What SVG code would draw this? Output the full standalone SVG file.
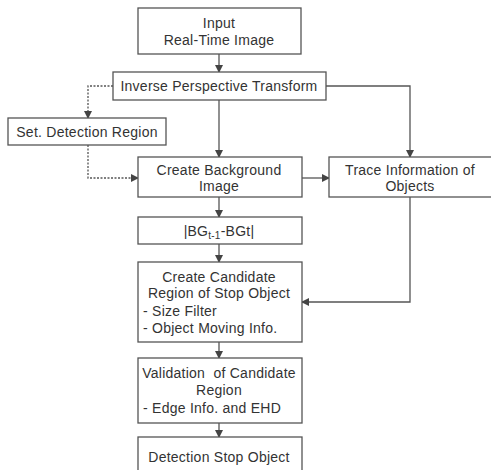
<svg xmlns="http://www.w3.org/2000/svg" width="491" height="470" viewBox="0 0 491 470">
<style>
.box{fill:#fff;stroke:#555;stroke-width:1.3}
.t{font-family:"Liberation Sans","DejaVu Sans",sans-serif;font-size:14px;letter-spacing:0.25px;fill:#333;text-anchor:middle}
.l{text-anchor:start}
.c{fill:none;stroke:#555;stroke-width:1.3}
.d{stroke-dasharray:2,1.5}
</style>
<defs>
<marker id="a" markerWidth="8" markerHeight="8" refX="7" refY="4" orient="auto" markerUnits="userSpaceOnUse">
<path d="M0,0 L8,4 L0,8 Z" fill="#444"/>
</marker>
</defs>
<rect width="491" height="470" fill="#fff"/>
<g id="connectors">
<path class="c" d="M219,54 V72" marker-end="url(#a)"/>
<path class="c d" d="M113,86 H88 V118" marker-end="url(#a)"/>
<path class="c" d="M219,100 V157" marker-end="url(#a)"/>
<path class="c" d="M326,86 H410 V157" marker-end="url(#a)"/>
<path class="c d" d="M88,145 V178 H138" marker-end="url(#a)"/>
<path class="c" d="M302,178 H329" marker-end="url(#a)"/>
<path class="c" d="M219,197 V217" marker-end="url(#a)"/>
<path class="c" d="M219,244 V262" marker-end="url(#a)"/>
<path class="c" d="M410,197 V302 H302" marker-end="url(#a)"/>
<path class="c" d="M219,342 V358" marker-end="url(#a)"/>
<path class="c" d="M219,423 V437" marker-end="url(#a)"/>
</g>
<g id="input">
<rect class="box" x="138" y="8" width="163" height="46"/>
<text class="t" x="219" y="28">Input</text>
<text class="t" x="219" y="45">Real-Time Image</text>
</g>
<g id="ipt">
<rect class="box" x="113" y="72" width="213" height="28"/>
<text class="t" x="219" y="91">Inverse Perspective Transform</text>
</g>
<g id="setdet">
<rect class="box" x="8" y="118" width="158" height="27"/>
<text class="t" x="87" y="137">Set. Detection Region</text>
</g>
<g id="createbg">
<rect class="box" x="138" y="157" width="164" height="40"/>
<text class="t" x="219" y="175">Create Background</text>
<text class="t" x="219" y="191">Image</text>
</g>
<g id="trace">
<rect class="box" x="329" y="157" width="170" height="40"/>
<text class="t" x="410" y="175">Trace Information of</text>
<text class="t" x="410" y="191">Objects</text>
</g>
<g id="diff">
<rect class="box" x="138" y="217" width="164" height="27"/>
<text class="t" x="219" y="236">|BG<tspan font-size="10" dy="3">t-1</tspan><tspan dy="-3">-BGt|</tspan></text>
</g>
<g id="candidate">
<rect class="box" x="138" y="262" width="164" height="80"/>
<text class="t" x="219" y="282">Create Candidate</text>
<text class="t" x="219" y="298">Region of Stop Object</text>
<text class="t l" x="143" y="316">- Size Filter</text>
<text class="t l" x="143" y="333">- Object Moving Info.</text>
</g>
<g id="validation">
<rect class="box" x="138" y="358" width="164" height="65"/>
<text class="t" x="219" y="378" xml:space="preserve">Validation  of Candidate</text>
<text class="t" x="219" y="395">Region</text>
<text class="t l" x="143" y="413">- Edge Info. and EHD</text>
</g>
<g id="detection">
<rect class="box" x="138" y="437" width="164" height="40"/>
<text class="t" x="219" y="462">Detection Stop Object</text>
</g>
</svg>
